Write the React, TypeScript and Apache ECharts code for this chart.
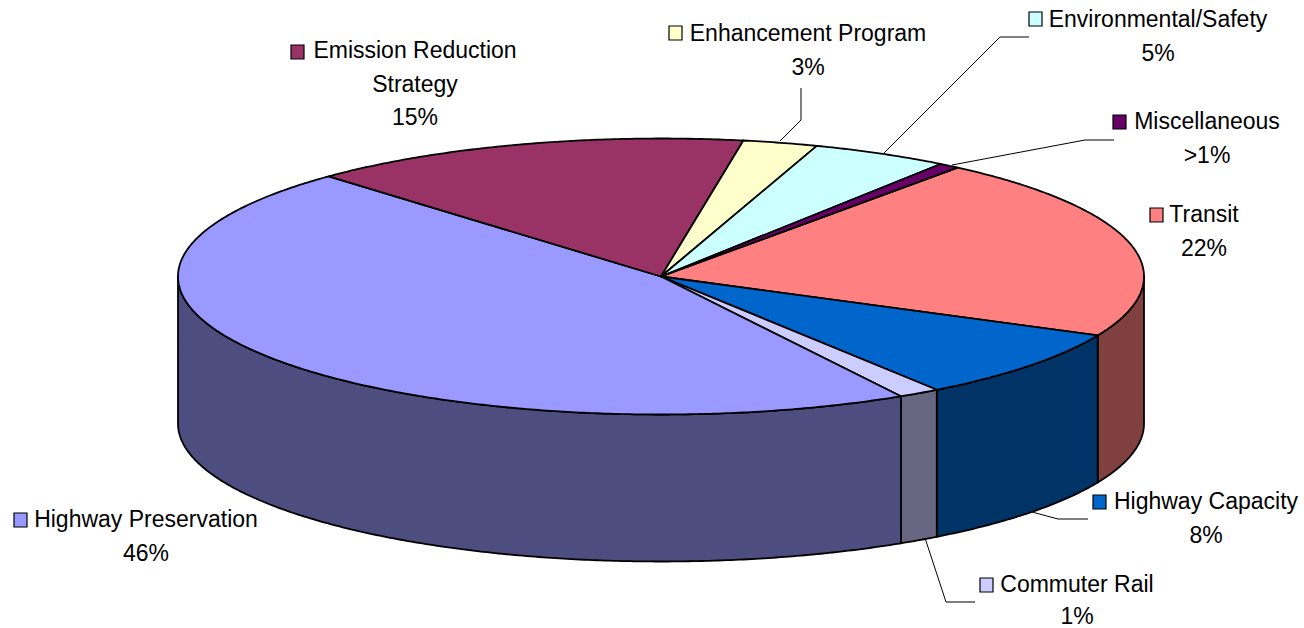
import React, { useEffect, useRef } from "react";
import * as echarts from "echarts";

const categories = ["Transit", "Highway Capacity", "Commuter Rail", "Highway Preservation", "Emission Reduction Strategy", "Enhancement Program", "Environmental/Safety", "Miscellaneous"];
const sliceValues = [21.5, 8.3, 1.4, 46.2, 14.8, 2.5, 4.6, 0.7];
const percentLabels = ["22%", "8%", "1%", "46%", "15%", "3%", "5%", ">1%"];
const topColors = ["#FF8080", "#0066CC", "#CCCCFF", "#9999FF", "#993366", "#FFFFCC", "#CCFFFF", "#660066"];
const wallColors = ["#804040", "#003366", "#666680", "#4D4D80", "#4D1A33", "#808066", "#668080", "#330033"];

// layout: [text centre x, first line centre y, swatch left, swatch top]
const labelLines = [["Transit"], ["Highway Capacity"], ["Commuter Rail"], ["Highway Preservation"], ["Emission Reduction", "Strategy"], ["Enhancement Program"], ["Environmental/Safety"], ["Miscellaneous"]];
const labelLayout = [
  [1204, 214, 1150, 208],
  [1206, 501, 1093, 495],
  [1077, 584, 980, 578],
  [146, 519, 14, 513],
  [415, 50, 291, 45],
  [808, 33, 669, 26],
  [1158, 19, 1029, 12],
  [1207, 121, 1113, 115],
];
const leaderLines = [
  [[801, 88], [801, 120], [780, 141]],
  [[1029, 37], [1000, 37], [884, 153]],
  [[1114, 140], [1085, 140], [952, 165]],
  [[1088, 519], [1058, 519], [1032, 512]],
  [[975, 602], [946, 602], [925, 538]],
];

const CX = 661, CY = 276.5, RX = 483, RY = 138, DEPTH = 147, START = 307.9;
const LINE = "#000000";

const total = sliceValues.reduce((a, b) => a + b, 0);
const boundaries: number[] = [START];
sliceValues.forEach((v, i) => boundaries.push(boundaries[i] + (v / total) * 360));

function rim(deg: number, dy = 0): number[] {
  const r = (deg * Math.PI) / 180;
  return [CX + RX * Math.cos(r), CY + dy + RY * Math.sin(r)];
}
function arc(a0: number, a1: number, dy = 0): number[][] {
  const n = Math.max(2, Math.ceil(Math.abs(a1 - a0) * 2));
  const pts: number[][] = [];
  for (let i = 0; i <= n; i++) pts.push(rim(a0 + ((a1 - a0) * i) / n, dy));
  return pts;
}

function renderSlice(params: any) {
  const i = params.dataIndex;
  const a0 = boundaries[i], a1 = boundaries[i + 1];
  const children: any[] = [];
  [[0, 180], [360, 540]].forEach(([lo, hi]) => {
    const s = Math.max(a0, lo), e = Math.min(a1, hi);
    if (e > s) {
      children.push({
        type: "polygon",
        shape: { points: [...arc(s, e), ...arc(e, s, DEPTH)] },
        style: { fill: wallColors[i], stroke: LINE, lineWidth: 1.8, lineJoin: "round" },
      });
    }
  });
  children.push({
    type: "polygon",
    shape: { points: [[CX, CY], ...arc(a0, a1)] },
    style: { fill: topColors[i], stroke: LINE, lineWidth: 1.8, lineJoin: "round" },
  });
  return { type: "group", children };
}

function buildGraphics() {
  const out: any[] = [];
  leaderLines.forEach((points) => {
    out.push({ type: "polyline", shape: { points }, style: { stroke: "#000", fill: "none", lineWidth: 1 } });
  });
  categories.forEach((_, i) => {
    const [tx, ty, sx, sy] = labelLayout[i];
    out.push({
      type: "rect",
      shape: { x: sx, y: sy, width: 13, height: 14 },
      style: { fill: topColors[i], stroke: "#000", lineWidth: 1.2 },
    });
    [...labelLines[i], percentLabels[i]].forEach((line, k) => {
      out.push({
        type: "text",
        x: tx,
        y: Math.min(ty + k * 33.5, 616),
        style: {
          text: line,
          fill: "#000",
          font: "23px 'Liberation Sans', Arial, sans-serif",
          textAlign: "center",
          textVerticalAlign: "middle",
        },
      });
    });
  });
  return out;
}

export default function App() {
  const ref = useRef<HTMLDivElement>(null);
  useEffect(() => {
    const chart = echarts.init(ref.current!, null, { renderer: "svg" });
    chart.setOption({
      animation: false,
      backgroundColor: "#ffffff",
      series: [
        {
          type: "custom",
          coordinateSystem: "none",
          silent: true,
          data: sliceValues.map((value, i) => ({ name: categories[i], value })),
          renderItem: renderSlice,
        },
      ],
      graphic: { elements: buildGraphics() },
    });
    return () => chart.dispose();
  }, []);
  return <div ref={ref} style={{ position: "fixed", left: 0, top: 0, width: 1304, height: 628 }} />;
}
